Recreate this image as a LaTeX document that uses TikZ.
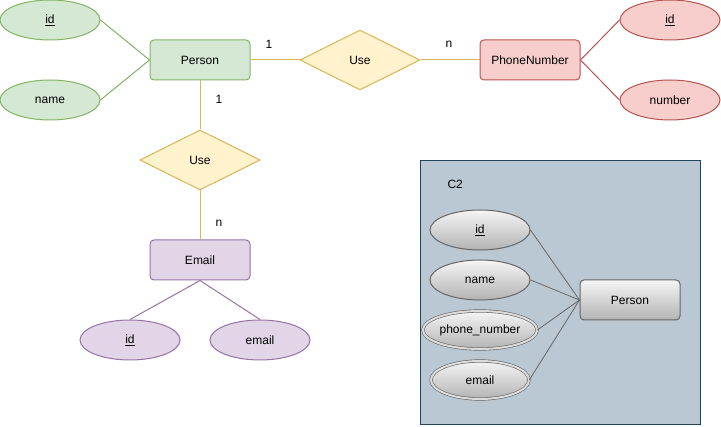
\documentclass[tikz,border=0pt]{standalone}
\usepackage{fontspec}
\setmainfont{Liberation Sans}
\usepackage{xcolor}
\usetikzlibrary{positioning,shapes}

\definecolor{grnfill}{HTML}{D5E8D4}
\definecolor{grnline}{HTML}{82B366}
\definecolor{yelfill}{HTML}{FFF2CC}
\definecolor{yelline}{HTML}{D6B656}
\definecolor{redfill}{HTML}{F8CECC}
\definecolor{redline}{HTML}{B85450}
\definecolor{purfill}{HTML}{E1D5E7}
\definecolor{purline}{HTML}{9673A6}
\definecolor{boxfill}{HTML}{BAC8D3}
\definecolor{boxline}{HTML}{23445D}
\definecolor{gtop}{HTML}{F5F5F5}
\definecolor{gbot}{HTML}{B3B3B3}
\definecolor{gline}{HTML}{666666}

\begin{document}
\begin{tikzpicture}[x=1pt,y=-1pt,line width=1pt,
  font=\fontsize{12}{14}\selectfont,
  entity/.style={rectangle,rounded corners=4pt,minimum width=100pt,minimum height=40pt,inner sep=0pt},
  attr/.style={ellipse,minimum width=100pt,minimum height=40pt,inner sep=0pt},
  rel/.style={diamond,aspect=2,minimum width=120pt,minimum height=60pt,inner sep=0pt,draw=yelline,fill=yelfill},
  card/.style={inner sep=0pt},
  grn/.style={draw=grnline,fill=grnfill},
  red/.style={draw=redline,fill=redfill},
  pur/.style={draw=purline,fill=purfill},
  gry/.style={draw=gline,top color=gtop,bottom color=gbot},
  multi/.style={double=gtop!60!gbot,double distance=2pt,line width=0.6pt}]
\useasboundingbox (0,0) rectangle (721,427);

% Person and its attributes
\node[entity,grn] (person) at (200,60) {Person};
\node[attr,grn] (pid) at (50,20) {\underline{id}};
\node[attr,grn] (pname) at (50,100) {name};
\draw[grnline] (pid.east) -- (person.west);
\draw[grnline] (pname.east) -- (person.west);

% PhoneNumber
\node[rel] (usephone) at (360,60) {Use};
\node[entity,red] (phone) at (530,60) {PhoneNumber};
\node[attr,red] (phid) at (670,20) {\underline{id}};
\node[attr,red] (phnum) at (670,100) {number};
\draw[redline] (phone.east) -- (phid.west);
\draw[redline] (phone.east) -- (phnum.west);
\draw[yelline] (person.east) -- (usephone.west);
\draw[yelline] (usephone.east) -- (phone.west);
\node[card] (c1) at (269,44) {1};
\node[card] (c2) at (449,44) {n};

% Email
\node[rel] (usemail) at (200,160) {Use};
\node[entity,pur] (email) at (200,260) {Email};
\node[attr,pur] (eid) at (130,340) {\underline{id}};
\node[attr,pur] (eaddr) at (260,340) {email};
\draw[purline] (email.south) -- (eid.north);
\draw[purline] (email.south) -- (eaddr.north);
\draw[yelline] (person.south) -- (usemail.north);
\draw[yelline] (usemail.south) -- (email.north);
\node[card] (c3) at (219,99) {1};
\node[card] (c4) at (219,223) {n};

% C2 container
\draw[boxline,fill=boxfill] (420.5,160.5) rectangle (700,425);
\node[anchor=west,inner sep=0pt] (ctitle) at (447,184) {C2};
\node[entity,gry] (cperson) at (630,300) {Person};
\node[attr,gry] (cid) at (480,230) {\underline{id}};
\node[attr,gry] (cname) at (480,280) {name};
\node[attr,gry,multi,minimum width=98pt,minimum height=38pt] (cphone) at (480,330) {phone\_number};
\node[attr,gry,multi,minimum width=98pt,minimum height=38pt] (cmail) at (480,380) {email};
\foreach \a in {cid,cname,cphone,cmail}
  \draw[gline,line width=0.8pt] (\a.east) -- (cperson.west);
\end{tikzpicture}
\end{document}
